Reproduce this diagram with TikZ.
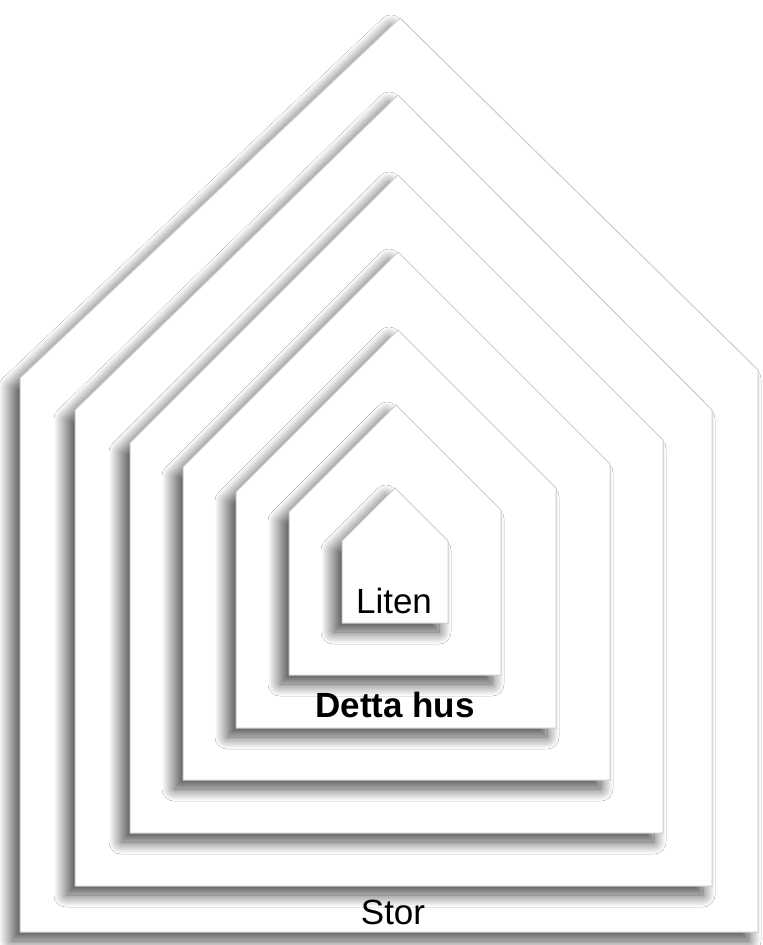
\documentclass[tikz,border=0pt]{standalone}
\usepackage{fontspec}
\setmainfont{Liberation Sans}
\usetikzlibrary{shadows.blur}
\begin{document}
\begin{tikzpicture}[x=0.5pt,y=-0.5pt,
  house/.style={fill=white, draw=gray!40, line width=0.5pt,
    blur shadow={shadow xshift=-4.5pt, shadow yshift=-4.5pt, shadow blur radius=6pt, shadow blur steps=24, shadow opacity=70}},
  lbl/.style={font=\fontsize{17.5}{20}\selectfont, inner sep=0pt}]
\useasboundingbox[fill=white] (0,0) rectangle (763,945);
\path[house] (20,932) -- (20,378) -- (400,18) -- (758,370) -- (758,932) -- cycle;
\path[house] (75,886) -- (75,410) -- (398,95) -- (712,410) -- (712,886) -- cycle;
\path[house] (130,833) -- (130,443) -- (398,175) -- (663,440) -- (663,833) -- cycle;
\path[house] (183,780) -- (183,467) -- (398,252) -- (610,464) -- (610,780) -- cycle;
\path[house] (236,728) -- (236,492) -- (398,330) -- (556,488) -- (556,728) -- cycle;
\path[house] (289,675) -- (289,512) -- (396,405) -- (501,510) -- (501,675) -- cycle;
\path[house] (342,623) -- (342,541) -- (395,488) -- (448,541) -- (448,623) -- cycle;
\node[lbl, anchor=base] (liten) at (394,613) {Liten};
\node[lbl, anchor=base, font=\fontsize{17.5}{20}\selectfont\bfseries] (detta) at (395,717) {Detta hus};
\node[lbl, anchor=base] (stor) at (393,924) {Stor};
\end{tikzpicture}
\end{document}
